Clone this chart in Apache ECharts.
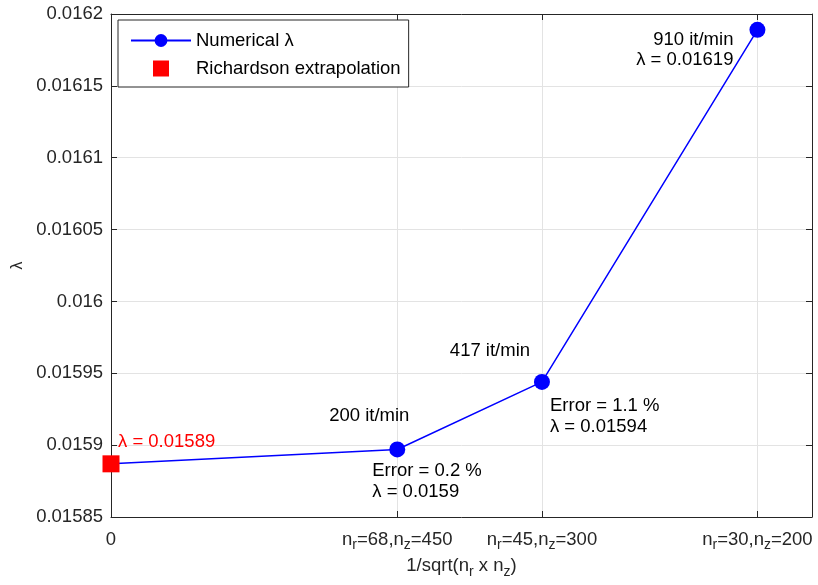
<!DOCTYPE html>
<html>
<head>
<meta charset="utf-8">
<script src="https://cdn.jsdelivr.net/npm/echarts@6/dist/echarts.min.js"></script>
<style>html,body{margin:0;padding:0;background:#fff}#c{width:818px;height:585px}</style>
</head>
<body>
<div id="c"></div>
<script>
// ---- data ----
const nr = [68, 45, 30];
const nz = [450, 300, 200];
const xVals = [0.005717, 0.008607, 0.01291];          // 1/sqrt(nr*nz)
const lambdaVals = [0.015897, 0.015944, 0.016189];   // numerical lambda
const itPerMin = [200, 417, 910];
const errorPct = ['0.2', '1.1', null];
const lambdaText = ['0.0159', '0.01594', '0.01619'];
const richX = [0];
const richLambda = [0.015887];
const richText = ['0.01589'];
const yMin = 0.01585, yMax = 0.0162, yStep = 0.00005;
const xMin = 0, xMax = 0.014;

const FONT = "'Liberation Sans', Arial, Helvetica, sans-serif";
const FS = 18.5;
const AX = '#262626';
const GRIDC = '#e3e3e3';

const subRich = {
  n: {fontSize: FS, lineHeight: 18, verticalAlign: 'top', fontFamily: FONT, color: AX},
  s: {fontSize: 14, verticalAlign: 'bottom', padding: [8, 0, 0, 0], fontFamily: FONT, color: AX}
};
function xLab(i) {
  return '{n|n}{s|r}{n|=' + nr[i] + ',n}{s|z}{n|=' + nz[i] + '}';
}
const tickVals = [xMin].concat(xVals);

const chart = echarts.init(document.getElementById('c'));
const lineData = [{value: [richX[0], richLambda[0]], symbol: 'none'}]
  .concat(xVals.map((x, i) => {
    const item = {value: [x, lambdaVals[i]]};
    if (errorPct[i] !== null) {
      item.label = {show: true, position: 'inside', align: 'left', verticalAlign: 'middle',
        offset: i === 0 ? [-25, 32] : [8, 34], lineHeight: 21,
        formatter: 'Error = ' + errorPct[i] + ' %\nλ = ' + lambdaText[i]};
    } else {
      item.label = {show: true, position: 'inside', align: 'right', verticalAlign: 'middle',
        offset: [-24, 20], lineHeight: 20,
        formatter: itPerMin[i] + ' it/min\nλ = ' + lambdaText[i]};
    }
    return item;
  }));
const itData = xVals.map((x, i) => {
  if (errorPct[i] === null) return {value: [x, lambdaVals[i]], label: {show: false}};
  return {value: [x, lambdaVals[i]], label: {show: true, position: 'inside', align: 'center', verticalAlign: 'middle',
    offset: i === 0 ? [-28, -34] : [-52, -31], formatter: itPerMin[i] + ' it/min'}};
});

chart.setOption({
  animation: false,
  backgroundColor: '#fff',
  textStyle: {fontFamily: FONT},
  grid: {left: 111, right: 6, top: 14, bottom: 68, containLabel: false, outerBoundsMode: 'none'},
  legend: {
    orient: 'vertical', left: 118, top: 20,
    data: [{name: 'Numerical λ'}, {name: 'Richardson extrapolation', icon: 'path://M0,0L10,0L10,10L0,10Z'}],
    borderColor: AX, borderWidth: 1, backgroundColor: '#fff',
    padding: [11, 8, 9, 12], itemWidth: 60, itemHeight: 16, itemGap: 9,
    textStyle: {fontSize: FS, color: '#000', fontFamily: FONT}
  },
  xAxis: [{
    type: 'value', min: xMin, max: xMax, position: 'bottom',
    name: '{n|1/sqrt(n}{s|r}{n| x n}{s|z}{n|)}', nameLocation: 'middle', nameGap: 35,
    nameTextStyle: {rich: subRich},
    axisLine: {show: true, onZero: false, lineStyle: {color: AX, width: 1}},
    axisTick: {show: true, inside: true, length: 6, customValues: tickVals, lineStyle: {color: AX}},
    axisLabel: {show: true, customValues: tickVals, margin: 13, color: AX, fontSize: FS, fontFamily: FONT,
      rich: subRich,
      formatter: function (v) {
        for (let i = 0; i < xVals.length; i++) if (Math.abs(v - xVals[i]) < 1e-9) return xLab(i);
        return '{n|0}';
      }},
    splitLine: {show: true, lineStyle: {color: GRIDC, width: 1}}
  }, {
    type: 'value', min: xMin, max: xMax, position: 'top',
    axisLine: {show: true, onZero: false, lineStyle: {color: AX, width: 1}},
    axisTick: {show: true, inside: true, length: 6, customValues: tickVals, lineStyle: {color: AX}},
    axisLabel: {show: false}, splitLine: {show: false}
  }],
  yAxis: [{
    type: 'value', min: yMin, max: yMax, interval: yStep, position: 'left',
    name: 'λ', nameLocation: 'middle', nameGap: 6, nameRotate: 90,
    nameTextStyle: {fontSize: 16, color: AX, fontFamily: FONT},
    axisLine: {show: true, onZero: false, lineStyle: {color: AX, width: 1}},
    axisTick: {show: true, inside: true, length: 6, lineStyle: {color: AX}},
    axisLabel: {color: AX, fontSize: FS, fontFamily: FONT, margin: 8,
      formatter: v => String(parseFloat(v.toPrecision(6)))},
    splitLine: {show: true, lineStyle: {color: GRIDC, width: 1}}
  }, {
    type: 'value', min: yMin, max: yMax, interval: yStep, position: 'right',
    axisLine: {show: true, onZero: false, lineStyle: {color: AX, width: 1}},
    axisTick: {show: true, inside: true, length: 6, lineStyle: {color: AX}},
    axisLabel: {show: false}, splitLine: {show: false}
  }],
  series: [{
    name: 'Numerical λ', type: 'line', xAxisIndex: 0, yAxisIndex: 0,
    data: lineData, symbol: 'circle', symbolSize: 16,
    itemStyle: {color: '#0000ff'}, lineStyle: {color: '#0000ff', width: 1.5},
    label: {color: '#000', fontSize: FS, fontFamily: FONT},
    z: 3
  }, {
    name: 'it/min', type: 'scatter', xAxisIndex: 0, yAxisIndex: 0, symbolSize: 0, silent: true,
    itemStyle: {opacity: 1},
    data: itData, label: {color: '#000', fontSize: FS, fontFamily: FONT}, z: 2
  }, {
    name: 'Richardson extrapolation', type: 'scatter', xAxisIndex: 0, yAxisIndex: 0,
    data: richX.map((x, i) => ({value: [x, richLambda[i]], label: {show: true, position: 'inside', align: 'left',
      verticalAlign: 'middle', offset: [7, -22], formatter: 'λ = ' + richText[i]}})),
    symbol: 'rect', symbolSize: 17, itemStyle: {color: '#ff0000', opacity: 1},
    label: {color: '#ff0000', fontSize: FS, fontFamily: FONT}, z: 4
  }]
});
</script>
</body>
</html>
